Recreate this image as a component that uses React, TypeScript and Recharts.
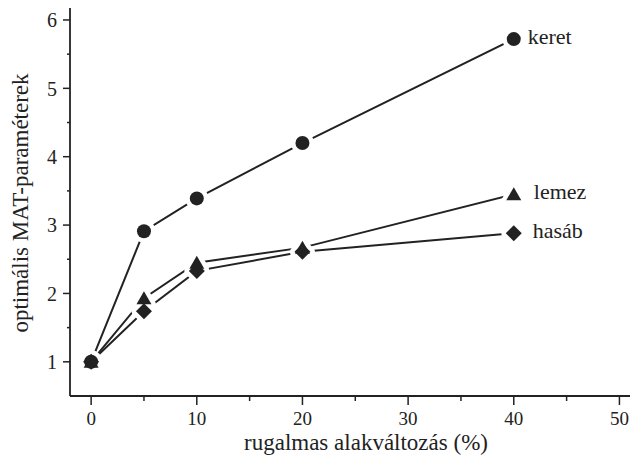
import { LineChart, Line, XAxis, YAxis, Label } from 'recharts';

// strain (%) on x, optimal MAT parameters on y
const X_VALUES = [0, 5, 10, 20, 40];
const KERET = [1, 2.91, 3.39, 4.2, 5.72];
const LEMEZ = [1, 1.93, 2.45, 2.67, 3.45];
const HASAB = [1, 1.74, 2.33, 2.61, 2.88];

const SERIES_NAMES = ['keret', 'lemez', 'hasáb'];
const X_TICKS = [0, 5, 10, 15, 20, 25, 30, 35, 40, 45, 50];
const Y_TICKS = [1, 1.5, 2, 2.5, 3, 3.5, 4, 4.5, 5, 5.5, 6];

const INK = '#222';
const FONT = "'Liberation Serif', 'Times New Roman', 'DejaVu Serif', serif";
const textStyle = { fontFamily: FONT };

const data = X_VALUES.map((x, i) => ({
  x,
  keret: KERET[i],
  lemez: LEMEZ[i],
  hasab: HASAB[i],
}));

const lastIndex = X_VALUES.length - 1;

type Shape = 'circle' | 'triangle' | 'diamond';

function markerPath(shape: Shape, cx: number, cy: number) {
  if (shape === 'triangle') {
    return `M${cx},${cy - 7} L${cx + 7.5},${cy + 6} L${cx - 7.5},${cy + 6} Z`;
  }
  return `M${cx},${cy - 8} L${cx + 8},${cy} L${cx},${cy + 8} L${cx - 8},${cy} Z`;
}

// halo pass: white blob under the markers so the lines stop short of them
function haloDot(shape: Shape, name: string) {
  return (props: any) => {
    const { cx, cy, index } = props;
    if (cx == null || cy == null) return <g key={`h-${name}-${index}`} />;
    return shape === 'circle' ? (
      <circle key={`h-${name}-${index}`} cx={cx} cy={cy} r={7} fill="#fff" stroke="#fff" strokeWidth={9} />
    ) : (
      <path key={`h-${name}-${index}`} d={markerPath(shape, cx, cy)} fill="#fff" stroke="#fff" strokeWidth={9} strokeLinejoin="round" />
    );
  };
}

// mark pass: the black marker, plus the series name at the last point
function markDot(shape: Shape, name: string, labelDx: number) {
  return (props: any) => {
    const { cx, cy, index } = props;
    if (cx == null || cy == null) return <g key={`m-${name}-${index}`} />;
    return (
      <g key={`m-${name}-${index}`}>
        {shape === 'circle' ? (
          <circle cx={cx} cy={cy} r={7} fill={INK} />
        ) : (
          <path d={markerPath(shape, cx, cy)} fill={INK} />
        )}
        {index === lastIndex && (
          <text x={cx + labelDx} y={cy + 5} fontSize={22} style={textStyle} fill={INK}>
            {name}
          </text>
        )}
      </g>
    );
  };
}

const YTick = (props: any) => {
  const { x, y, payload } = props;
  const v = payload.value;
  const major = Number.isInteger(v);
  return (
    <g>
      <line x1={x} x2={x - (major ? 7 : 3)} y1={y} y2={y} stroke={INK} strokeWidth={1.5} />
      {major && (
        <text x={x - 13} y={y} dy="0.36em" textAnchor="end" fontSize={20} style={textStyle} fill={INK}>
          {v}
        </text>
      )}
    </g>
  );
};

const XTick = (props: any) => {
  const { x, y, payload } = props;
  const v = payload.value;
  const major = v % 10 === 0;
  return (
    <g>
      <line x1={x} x2={x} y1={y} y2={y + (major ? 9 : 5)} stroke={INK} strokeWidth={1.5} />
      {major && (
        <text x={x} y={y + 22} dy="0.36em" textAnchor="middle" fontSize={19} style={textStyle} fill={INK}>
          {v}
        </text>
      )}
    </g>
  );
};

export default function App() {
  return (
    <div style={{ position: 'absolute', left: 0, top: 0, background: '#fff' }}>
      <LineChart width={632} height={457} data={data} margin={{ top: 8, right: 2, bottom: 0, left: 10 }}>
        <XAxis
          dataKey="x"
          type="number"
          domain={[-2, 51]}
          ticks={X_TICKS}
          interval={0}
          tick={<XTick />}
          tickLine={false}
          tickSize={0}
          tickMargin={0}
          height={61}
          axisLine={{ stroke: INK, strokeWidth: 1.8 }}
        >
          <Label
            content={(p: any) => {
              const vb = p.viewBox;
              return (
                <text x={366} y={vb.y + 46} dy="0.36em" textAnchor="middle" fontSize={23} style={textStyle} fill={INK}>
                  rugalmas alakváltozás (%)
                </text>
              );
            }}
          />
        </XAxis>
        <YAxis
          type="number"
          domain={[0.5, 6.175]}
          ticks={Y_TICKS}
          interval={0}
          tick={<YTick />}
          tickLine={false}
          tickSize={0}
          tickMargin={0}
          width={60}
          axisLine={{ stroke: INK, strokeWidth: 1.8 }}
        >
          <Label
            content={() => (
              <text
                x={20}
                y={203}
                dy="0.36em"
                textAnchor="middle"
                transform="rotate(-90 20 203)"
                fontSize={23}
                style={textStyle}
                fill={INK}
              >
                optimális MAT-paraméterek
              </text>
            )}
          />
        </YAxis>
        <Line dataKey="keret" stroke={INK} strokeWidth={2} isAnimationActive={false} dot={haloDot('circle', 'keret')} activeDot={false} />
        <Line dataKey="lemez" stroke={INK} strokeWidth={2} isAnimationActive={false} dot={haloDot('triangle', 'lemez')} activeDot={false} />
        <Line dataKey="hasab" stroke={INK} strokeWidth={2} isAnimationActive={false} dot={haloDot('diamond', 'hasab')} activeDot={false} />
        <Line dataKey="keret" stroke="none" isAnimationActive={false} dot={markDot('circle', SERIES_NAMES[0], 14)} activeDot={false} />
        <Line dataKey="lemez" stroke="none" isAnimationActive={false} dot={markDot('triangle', SERIES_NAMES[1], 20)} activeDot={false} />
        <Line dataKey="hasab" stroke="none" isAnimationActive={false} dot={markDot('diamond', SERIES_NAMES[2], 19)} activeDot={false} />
      </LineChart>
    </div>
  );
}
